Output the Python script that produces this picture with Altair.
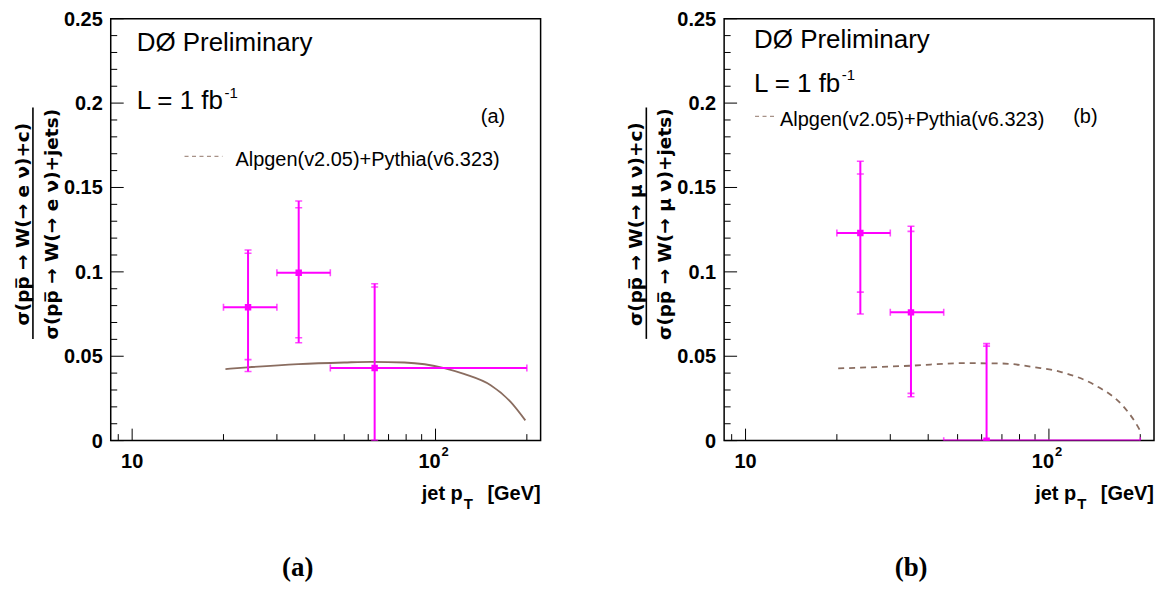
import altair as alt
import pandas as pd

# ---------------- data ----------------
# panel (a): W -> e nu
a_pt = [24.1, 35.4, 63.0]
a_lo = [20, 30, 45]
a_hi = [30, 45, 200]
a_val = [0.079, 0.0995, 0.043]
a_stat_dn = [0.048, 0.061, 0.0]
a_stat_up = [0.111, 0.138, 0.091]
a_tot_dn = [0.041, 0.058, 0.0]
a_tot_up = [0.113, 0.142, 0.093]
a_mc_pt = [20.3, 24, 35.3, 50, 61.4, 79, 106.8, 124, 152, 176.5, 197.7]
a_mc_val = [0.0424, 0.0434, 0.0453, 0.0463, 0.0467, 0.0463, 0.0430, 0.0395, 0.0328, 0.0231, 0.0120]

# panel (b): W -> mu nu
b_pt = [23.9, 35.1, 62.3]
b_lo = [20, 30, 45]
b_hi = [30, 45, 200]
b_val = [0.123, 0.076, 0.0]
b_stat_dn = [0.088, 0.028, 0.0]
b_stat_up = [0.158, 0.124, 0.056]
b_tot_dn = [0.075, 0.026, 0.0]
b_tot_up = [0.1655, 0.127, 0.0575]
b_mc_pt = [20.2, 35.2, 52, 70.3, 90.4, 110.6, 142, 174, 193, 200]
b_mc_val = [0.0428, 0.0444, 0.0459, 0.0457, 0.0434, 0.0405, 0.0328, 0.0212, 0.0106, 0.0058]

# axes
x_domain = [8.5, 222]
y_domain = [0, 0.25]
x_major = [10, 100]
x_major_labels = ["10", "10"]
x_major_sup = ["", "2"]
x_minor = [9, 20, 30, 40, 50, 60, 70, 80, 90, 200]
y_major = [0, 0.05, 0.1, 0.15, 0.2, 0.25]
y_major_labels = ["0", "0.05", "0.1", "0.15", "0.2", "0.25"]
y_minor = [0.01, 0.02, 0.03, 0.04, 0.06, 0.07, 0.08, 0.09, 0.11, 0.12, 0.13, 0.14,
           0.16, 0.17, 0.18, 0.19, 0.21, 0.22, 0.23, 0.24]

# texts
experiment = "DØ Preliminary"
lumi = "L = 1 fb"
lumi_sup = "-1"
legend_label = "Alpgen(v2.05)+Pythia(v6.323)"
num_a = "σ(pp\u0305 → W(→ e ν)+c)"
den_a = "σ(pp\u0305 → W(→ e ν)+jets)"
num_b = "σ(pp\u0305 → W(→ μ ν)+c)"
den_b = "σ(pp\u0305 → W(→ μ ν)+jets)"

# ---------------- styling ----------------
W, H = 431, 423
SANS = "Liberation Sans"
SERIF = "Liberation Serif"
MAG = "#ff00ff"
BROWN = "#8a6d60"

xs = alt.Scale(type="log", domain=x_domain, nice=False)
ys = alt.Scale(domain=y_domain, nice=False)
dummy = pd.DataFrame({"a": [0]})


def txt(s, x, y, size, weight="normal", align="left", baseline="alphabetic",
        angle=0, font=SANS, color="black"):
    return alt.Chart(dummy).mark_text(
        text=s, fontSize=size, fontWeight=weight, align=align, baseline=baseline,
        angle=angle, font=font, color=color
    ).encode(x=alt.value(x), y=alt.value(y))


def panel(pt, lo, hi, val, sdn, sup, tdn, tup, mcx, mcy, dashed, num, den, tag,
          exp_xy, lumi_xy, leg, tag_xy):
    pts = pd.DataFrame({"pt": pt, "lo": lo, "hi": hi, "val": val,
                        "tdn": tdn, "tup": tup})
    caps_v = pd.DataFrame({"pt": pt * 4, "v": sdn + sup + tdn + tup})
    caps_h = pd.DataFrame({"x": lo + hi, "y": val + val})
    mc = pd.DataFrame({"x": mcx, "y": mcy})

    line_kw = dict(color=BROWN, strokeWidth=1.8, clip=True, interpolate="monotone")
    if dashed:
        line_kw["strokeDash"] = [6, 5]
    curve = alt.Chart(mc).mark_line(**line_kw).encode(
        x=alt.X("x:Q", scale=xs, axis=None),
        y=alt.Y("y:Q", scale=ys, axis=None),
    )

    hbar = alt.Chart(pts).mark_rule(color=MAG, strokeWidth=2, clip=True).encode(
        x=alt.X("lo:Q", scale=xs, axis=None), x2="hi:Q",
        y=alt.Y("val:Q", scale=ys, axis=None))
    vbar = alt.Chart(pts).mark_rule(color=MAG, strokeWidth=2, clip=True).encode(
        x=alt.X("pt:Q", scale=xs, axis=None),
        y=alt.Y("tdn:Q", scale=ys, axis=None), y2="tup:Q")
    capv = alt.Chart(caps_v).mark_tick(color=MAG, orient="horizontal", size=7,
                                       thickness=1.6, clip=True).encode(
        x=alt.X("pt:Q", scale=xs, axis=None), y=alt.Y("v:Q", scale=ys, axis=None))
    caph = alt.Chart(caps_h).mark_tick(color=MAG, orient="vertical", size=7,
                                       thickness=1.6, clip=True).encode(
        x=alt.X("x:Q", scale=xs, axis=None), y=alt.Y("y:Q", scale=ys, axis=None))
    marker = alt.Chart(pts).mark_square(color=MAG, size=42, opacity=1,
                                        clip=True).encode(
        x=alt.X("pt:Q", scale=xs, axis=None), y=alt.Y("val:Q", scale=ys, axis=None))

    # inward ticks
    xmaj = alt.Chart(pd.DataFrame({"v": x_major})).mark_rule(color="black").encode(
        x=alt.X("v:Q", scale=xs, axis=None), y=alt.value(H), y2=alt.value(H - 12))
    xmin = alt.Chart(pd.DataFrame({"v": x_minor})).mark_rule(color="black").encode(
        x=alt.X("v:Q", scale=xs, axis=None), y=alt.value(H), y2=alt.value(H - 6.5))
    ymaj = alt.Chart(pd.DataFrame({"v": y_major})).mark_rule(color="black").encode(
        y=alt.Y("v:Q", scale=ys, axis=None), x=alt.value(0), x2=alt.value(13))
    ymin = alt.Chart(pd.DataFrame({"v": y_minor})).mark_rule(color="black").encode(
        y=alt.Y("v:Q", scale=ys, axis=None), x=alt.value(0), x2=alt.value(6.5))

    # tick labels
    ylab = alt.Chart(pd.DataFrame({"v": y_major, "t": y_major_labels})).mark_text(
        font=SANS, fontWeight="bold", fontSize=20, align="right", baseline="middle",
        color="black", dy=1).encode(
        y=alt.Y("v:Q", scale=ys, axis=None), x=alt.value(-8), text="t:N")
    xlabs = []
    for v, t, s in zip(x_major, x_major_labels, x_major_sup):
        d = pd.DataFrame({"v": [v], "t": [t], "s": [s]})
        xlabs.append(alt.Chart(d).mark_text(
            font=SANS, fontWeight="bold", fontSize=20, align="center",
            baseline="alphabetic", color="black", dx=-6 if s else 0).encode(
            x=alt.X("v:Q", scale=xs, axis=None), y=alt.value(H + 27), text="t:N"))
        if s:
            xlabs.append(alt.Chart(d).mark_text(
                font=SANS, fontWeight="bold", fontSize=13, align="left",
                baseline="alphabetic", color="black", dx=6).encode(
                x=alt.X("v:Q", scale=xs, axis=None), y=alt.value(H + 15), text="s:N"))

    # y-axis title as a fraction
    frac_bar = alt.Chart(dummy).mark_rule(color="black", strokeWidth=1.6).encode(
        x=alt.value(-78), y=alt.value(89), y2=alt.value(321))
    num_t = txt(num, -88, 206, 18.5, weight="bold", align="center", baseline="middle",
                angle=270, font="DejaVu Sans")
    den_t = txt(den, -59, 206, 18.5, weight="bold", align="center", baseline="middle",
                angle=270, font="DejaVu Sans")

    # x title
    xt1 = txt("jet p", 353, H + 60, 20, weight="bold", align="right")
    xt2 = txt("T", 354, H + 69, 15, weight="bold")
    xt3 = txt("[GeV]", W, H + 60, 20, weight="bold", align="right")

    # annotations
    ex, ey = exp_xy
    lx, ly = lumi_xy
    gx, gl, gtx, gy = leg
    tx, ty = tag_xy
    exp_t = txt(experiment, ex, ey, 26)
    lumi_t = txt(lumi, lx, ly, 26)
    lumi_s = txt(lumi_sup, lx + 88, ly - 12, 15)
    leg_line = alt.Chart(dummy).mark_rule(color=BROWN, strokeWidth=1.3,
                                          strokeDash=[4, 3.5], opacity=0.75).encode(
        x=alt.value(gx), x2=alt.value(gx + gl), y=alt.value(gy), y2=alt.value(gy))
    leg_t = txt(legend_label, gtx, gy + 10, 20)
    tag_t = txt(tag, tx, ty, 20)
    caption = txt(tag, W / 2 - 28, 551, 27, weight="bold",
                  baseline="middle", font=SERIF, align="center")

    return alt.layer(
        curve, xmin, xmaj, ymin, ymaj, hbar, vbar, capv, caph, marker,
        ylab, *xlabs,
        frac_bar, num_t, den_t, xt1, xt2, xt3,
        exp_t, lumi_t, lumi_s, leg_line, leg_t, tag_t, caption,
    ).properties(width=W, height=H)


pa = panel(a_pt, a_lo, a_hi, a_val, a_stat_dn, a_stat_up, a_tot_dn, a_tot_up,
           a_mc_pt, a_mc_val, False, num_a, den_a, "(a)",
           exp_xy=(26, 32), lumi_xy=(26, 91), leg=(74, 38, 125, 138), tag_xy=(371, 105))
pb = panel(b_pt, b_lo, b_hi, b_val, b_stat_dn, b_stat_up, b_tot_dn, b_tot_up,
           b_mc_pt, b_mc_val, True, num_b, den_b, "(b)",
           exp_xy=(30, 29), lumi_xy=(30, 73), leg=(31, 20, 56, 98), tag_xy=(350, 105))

chart = alt.hconcat(pa, pb, spacing=184, bounds="flush").properties(
    padding={"left": 5, "top": 0, "right": 0, "bottom": 0}
).configure_view(stroke="black", strokeWidth=1.5)

chart.save("out.html", embed_options={"renderer": "svg", "actions": False})
